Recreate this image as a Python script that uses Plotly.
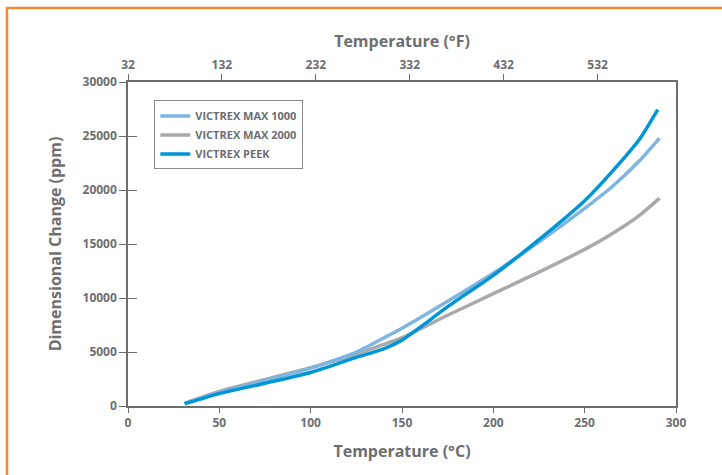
import plotly.graph_objects as go

# ---- data ----
temp_max1000 = [31, 50, 75, 100, 125, 140, 150, 175, 200, 225, 250, 265, 280, 291]
dim_max1000 = [250, 1250, 2350, 3500, 5000, 6300, 7200, 9700, 12300, 15200, 18300, 20300, 22700, 24800]

temp_max2000 = [31, 50, 75, 100, 125, 140, 150, 175, 200, 225, 250, 265, 280, 291]
dim_max2000 = [250, 1350, 2450, 3550, 4800, 5700, 6330, 8400, 10400, 12400, 14500, 15950, 17650, 19250]

temp_peek = [31, 50, 75, 100, 125, 140, 150, 160, 175, 200, 225, 250, 265, 280, 290]
dim_peek = [200, 1150, 2100, 3100, 4500, 5300, 6100, 7300, 9200, 12100, 15400, 19000, 21700, 24700, 27450]

series_names = ["VICTREX MAX 1000", "VICTREX MAX 2000", "VICTREX PEEK"]

x_ticks_c = [0, 50, 100, 150, 200, 250, 300]
y_ticks = [0, 5000, 10000, 15000, 20000, 25000, 30000]
f_ticks = [32, 132, 232, 332, 432, 532]

GREY = "#6d6e71"
FONT = "Open Sans"

fig = go.Figure()

fig.add_trace(go.Scatter(x=temp_max2000, y=dim_max2000, name=series_names[1], mode="lines",
                         line=dict(color="#a7a9ac", width=3.5, shape="spline", smoothing=0.6),
                         legendrank=2))
fig.add_trace(go.Scatter(x=temp_max1000, y=dim_max1000, name=series_names[0], mode="lines",
                         line=dict(color="#7db5e3", width=3.5, shape="spline", smoothing=0.6),
                         legendrank=1))
fig.add_trace(go.Scatter(x=temp_peek, y=dim_peek, name=series_names[2], mode="lines",
                         line=dict(color="#0096d6", width=3.5, shape="spline", smoothing=0.6),
                         legendrank=3))

# invisible helper trace so the secondary (°F / inner-tick) axes are drawn
fig.add_trace(go.Scatter(x=f_ticks, y=[None] * len(f_ticks), xaxis="x2", yaxis="y2",
                         mode="lines", showlegend=False, hoverinfo="skip"))

tickfont = dict(family=FONT, size=12, color=GREY, weight="bold")
titlefont = dict(family=FONT, size=16, color=GREY, weight="bold")

fig.update_layout(
    width=722, height=475,
    margin=dict(l=128, r=46, t=82, b=69),
    paper_bgcolor="white", plot_bgcolor="white",
    showlegend=True,
    legend=dict(x=0.048, y=0.943, xanchor="left", yanchor="top",
                bordercolor="#8a8a8a", borderwidth=1, bgcolor="white",
                font=dict(family=FONT, size=11, color=GREY, weight="bold"),
                tracegroupgap=0, itemwidth=30),
    xaxis=dict(range=[0, 300], tickvals=x_ticks_c, ticks="outside", ticklen=5,
               tickcolor=GREY, tickwidth=1.3, showline=True, linecolor=GREY, linewidth=1.5,
               showgrid=False, zeroline=False, tickfont=tickfont,
               title=dict(text="Temperature (°C)", font=titlefont, standoff=16)),
    xaxis2=dict(range=[32, 32 + 300 * 1.945], overlaying="x", side="top", anchor="y",
                tickvals=f_ticks, ticks="outside", ticklen=6, tickcolor=GREY, tickwidth=1.3,
                showline=True, linecolor=GREY, linewidth=1.5, showgrid=False, zeroline=False,
                tickfont=tickfont,
                title=dict(text="Temperature (°F)", font=titlefont, standoff=5)),
    yaxis=dict(range=[0, 30000], tickvals=y_ticks, tickformat="d", ticks="outside", ticklen=7,
               tickcolor=GREY, tickwidth=1.3, showline=True, linecolor=GREY, linewidth=1.5,
               mirror=True, showgrid=False, zeroline=False, tickfont=tickfont,
               title=dict(text="Dimensional Change (ppm)", font=titlefont, standoff=17)),
    yaxis2=dict(range=[0, 30000], overlaying="y", side="left", anchor="x", tickvals=y_ticks,
                ticks="inside", ticklen=9, tickcolor=GREY, tickwidth=1.3,
                showticklabels=False, showline=False, showgrid=False, zeroline=False),
)

# orange frame around the figure (cut off at right/bottom as in the reference)
fig.add_shape(type="rect", xref="paper", yref="paper",
              x0=(7 - 128) / 548, x1=1.3, y0=-0.4, y1=(406 - 8) / 324,
              line=dict(color="#ee8a32", width=2.5), fillcolor="rgba(0,0,0,0)", layer="below")

fig.write_html("out.html")
